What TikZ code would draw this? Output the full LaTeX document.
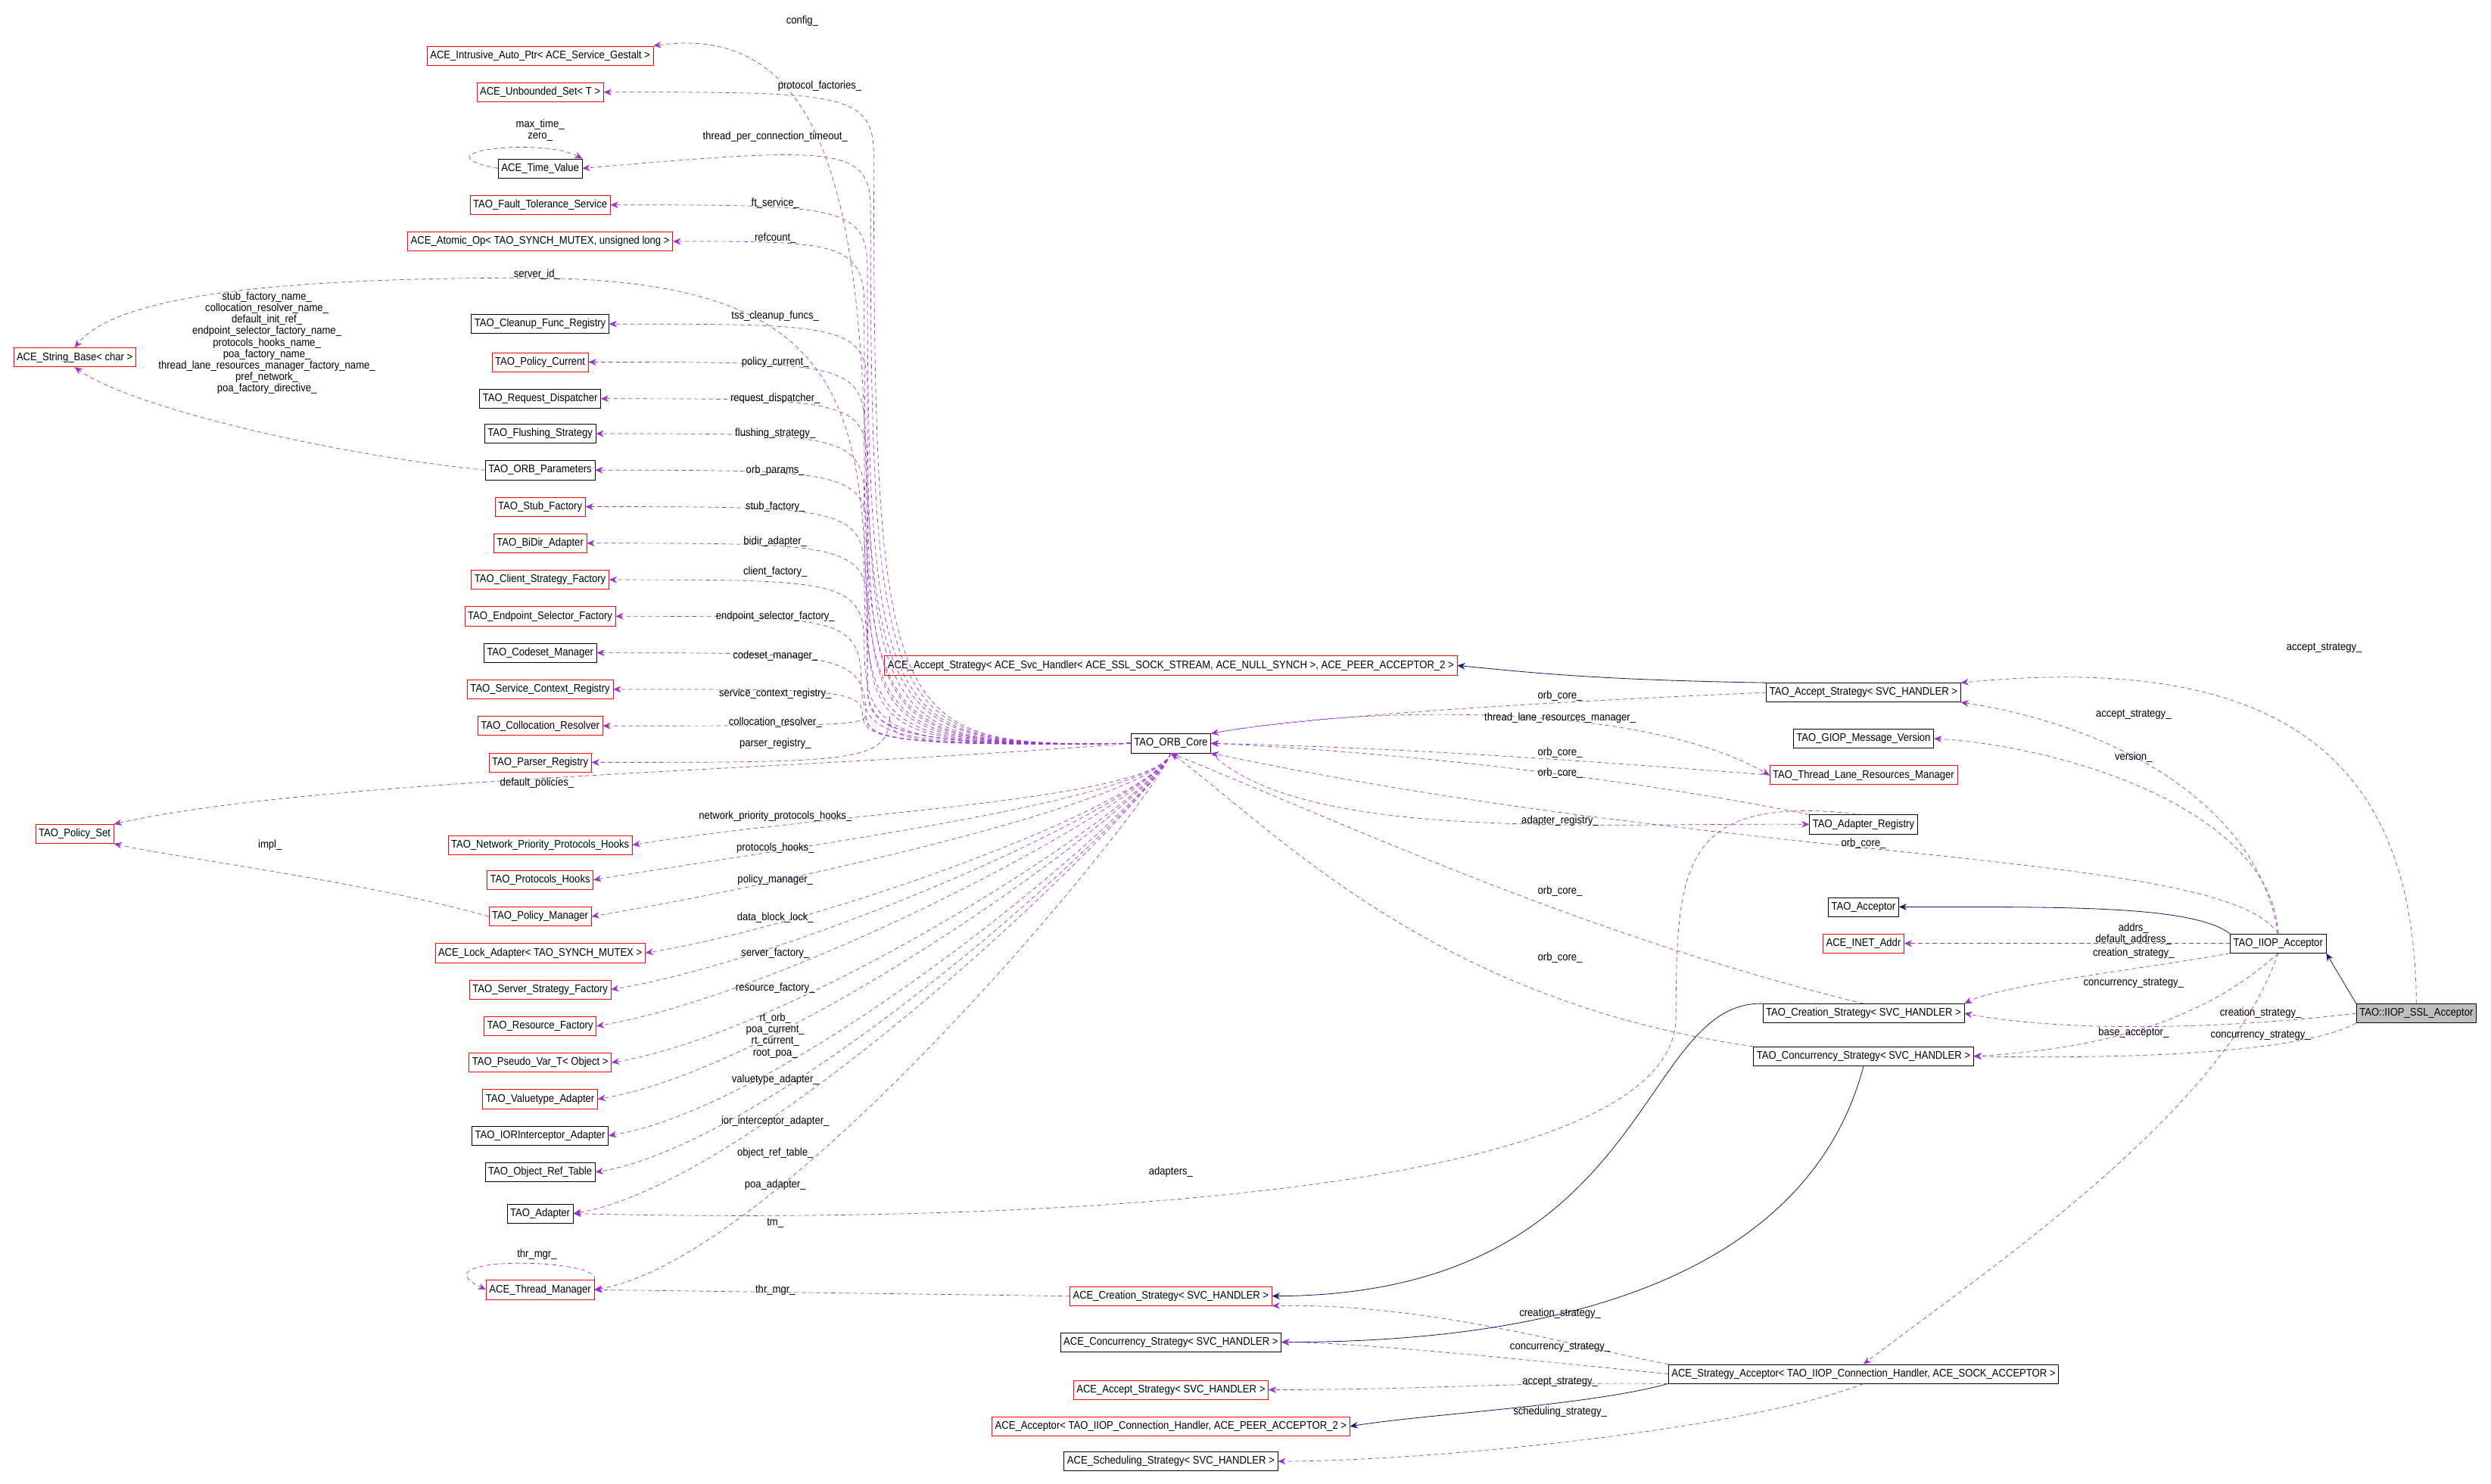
\documentclass[tikz,border=0pt]{standalone}
\usepackage{fontspec}
\setmainfont{Liberation Sans}[FakeStretch=0.9]
\usetikzlibrary{arrows.meta}
\definecolor{dep}{HTML}{9A32CD}
\definecolor{inhc}{HTML}{191970}
\newcommand{\lbl}{\fontsize{10.5}{11}\selectfont}
\tikzset{
 box/.style={draw=black,line width=0.5pt,font=\lbl,inner sep=3pt,minimum height=6.4mm,fill=white},
 rbox/.style={box,draw=red},
 gbox/.style={box,fill=black!25},
 dep/.style={draw=dep,dash pattern=on 4pt off 3pt,line width=0.5pt,-{Stealth[length=2.6mm,width=2.2mm]}},
 inh/.style={draw=inhc,line width=0.6pt,-{Stealth[length=2.6mm,width=2.2mm]}},
 el/.style={font=\lbl,inner sep=0pt,align=center}
}
\begin{document}
\begin{tikzpicture}[x=0.5334mm,y=-0.5334mm]
\useasboundingbox (0,0) rectangle (1568,934);
% left column
\foreach \n/\t/\y/\s in {
 ia/{ACE\_Intrusive\_Auto\_Ptr< ACE\_Service\_Gestalt >}/35/rbox,
 us/{ACE\_Unbounded\_Set< T >}/58/rbox,
 tv/{ACE\_Time\_Value}/106/box,
 ft/{TAO\_Fault\_Tolerance\_Service}/129/rbox,
 ao/{ACE\_Atomic\_Op< TAO\_SYNCH\_MUTEX, unsigned long >}/152/rbox,
 cf/{TAO\_Cleanup\_Func\_Registry}/204/box,
 pc/{TAO\_Policy\_Current}/228/rbox,
 rd/{TAO\_Request\_Dispatcher}/251/box,
 fs/{TAO\_Flushing\_Strategy}/273/box,
 op/{TAO\_ORB\_Parameters}/296/box,
 sf/{TAO\_Stub\_Factory}/319/rbox,
 bd/{TAO\_BiDir\_Adapter}/342/rbox,
 csf/{TAO\_Client\_Strategy\_Factory}/365/rbox,
 esf/{TAO\_Endpoint\_Selector\_Factory}/388/rbox,
 cm/{TAO\_Codeset\_Manager}/411/box,
 scr/{TAO\_Service\_Context\_Registry}/434/rbox,
 cr/{TAO\_Collocation\_Resolver}/457/rbox,
 pr/{TAO\_Parser\_Registry}/480/rbox,
 npp/{TAO\_Network\_Priority\_Protocols\_Hooks}/532/rbox,
 ph/{TAO\_Protocols\_Hooks}/554/rbox,
 pm/{TAO\_Policy\_Manager}/577/rbox,
 la/{ACE\_Lock\_Adapter< TAO\_SYNCH\_MUTEX >}/600/rbox,
 ssf/{TAO\_Server\_Strategy\_Factory}/623/rbox,
 rf/{TAO\_Resource\_Factory}/646/rbox,
 pv/{TAO\_Pseudo\_Var\_T< Object >}/669/rbox,
 va/{TAO\_Valuetype\_Adapter}/692/rbox,
 iora/{TAO\_IORInterceptor\_Adapter}/715/box,
 ort/{TAO\_Object\_Ref\_Table}/738/box,
 tadp/{TAO\_Adapter}/764/box,
 tm/{ACE\_Thread\_Manager}/812/rbox}
 {\node[\s] (\n) at (340,\y) {\t};}
\node[rbox] (sb) at (47,225) {ACE\_String\_Base< char >};
\node[rbox] (ps) at (47,525) {TAO\_Policy\_Set};
\node[rbox] (aas) at (737,419) {ACE\_Accept\_Strategy< ACE\_Svc\_Handler< ACE\_SSL\_SOCK\_STREAM, ACE\_NULL\_SYNCH >, ACE\_PEER\_ACCEPTOR\_2 >};
\node[box] (orb) at (737,468) {TAO\_ORB\_Core};
\node[box] (ta) at (1173,436) {TAO\_Accept\_Strategy< SVC\_HANDLER >};
\node[box] (giop) at (1173,465) {TAO\_GIOP\_Message\_Version};
\node[rbox] (tlrm) at (1173,488) {TAO\_Thread\_Lane\_Resources\_Manager};
\node[box] (ar) at (1173,519) {TAO\_Adapter\_Registry};
\node[box] (acc) at (1173,571) {TAO\_Acceptor};
\node[rbox] (inet) at (1173,594) {ACE\_INET\_Addr};
\node[box] (iiop) at (1434,594) {TAO\_IIOP\_Acceptor};
\node[gbox] (ssl) at (1521,638) {TAO::IIOP\_SSL\_Acceptor};
\node[box] (cs) at (1173,638) {TAO\_Creation\_Strategy< SVC\_HANDLER >};
\node[box] (ccs) at (1173,665) {TAO\_Concurrency\_Strategy< SVC\_HANDLER >};
\node[rbox] (acs) at (737,816) {ACE\_Creation\_Strategy< SVC\_HANDLER >};
\node[box] (accs) at (737,845) {ACE\_Concurrency\_Strategy< SVC\_HANDLER >};
\node[box] (sa) at (1173,865) {ACE\_Strategy\_Acceptor< TAO\_IIOP\_Connection\_Handler, ACE\_SOCK\_ACCEPTOR >};
\node[rbox] (aas2) at (737,875) {ACE\_Accept\_Strategy< SVC\_HANDLER >};
\node[rbox] (aa) at (737,898) {ACE\_Acceptor< TAO\_IIOP\_Connection\_Handler, ACE\_PEER\_ACCEPTOR\_2 >};
\node[box] (sch) at (737,920) {ACE\_Scheduling\_Strategy< SVC\_HANDLER >};

% ORB_Core to upper left nodes
\coordinate (up0) at (546,430);
\draw[dep] (orb.west) .. controls (560,470) and (546,460) .. (up0) .. controls (546,200) and (548,10) .. (ia.north east);
\foreach \n/\y/\xx in {us/58/550,tv/92/548,ft/129/546,ao/152/544,cf/204/546,pc/228/544,rd/251/546,fs/273/544,op/296/546,sf/319/544,bd/342/546,csf/365/544,esf/388/542,cm/411/545,scr/434/543,cr/457/545,pr/480/560}
 {\draw[dep] (orb.west) .. controls (560,470) and (\xx,465) .. (\xx,{min(\y+40,450)}) .. controls (\xx,\y) and ({\xx-20},\y) .. (\n.east);}
\coordinate (sbm) at (330,175);
\draw[dep] (orb.west) .. controls (560,470) and (545,460) .. (up0) .. controls (545,260) and (545,175) .. (sbm) .. controls (150,175) and (70,190) .. (sb.north);
\draw[dep] (orb.west) .. controls (500,485) and (200,490) .. (ps.north east);
\foreach \n in {npp,ph,pm,la,ssf,rf,pv,va,iora,ort,tadp,tm}
 {\draw[dep] (orb.south) .. controls +(-10,30) and +(120,-20) .. (\n.east);}
\draw[dep] (op.west) .. controls (200,285) and (80,255) .. (sb.south);
\draw[dep] (pm.west) .. controls (230,555) and (110,540) .. (ps.south east);
\draw[dep] (tv.west) .. controls (260,96) and (340,86) .. (tv.north east);
\draw[dep] (tm.north east) .. controls (380,792) and (260,790) .. (tm.west);
% labels left
\node[el] (l1) at (505,13) {config\_};
\node[el] (l2) at (516,54) {protocol\_factories\_};
\node[el] (l3) at (340,82) {max\_time\_\\zero\_};
\node[el] (l4) at (488,86) {thread\_per\_connection\_timeout\_};
\node[el] (l5) at (488,128) {ft\_service\_};
\node[el] (l6) at (488,150) {refcount\_};
\node[el] (l7) at (338,173) {server\_id\_};
\node[el] (l8) at (488,199) {tss\_cleanup\_funcs\_};
\node[el] (l9) at (488,228) {policy\_current\_};
\node[el] (l10) at (488,251) {request\_dispatcher\_};
\node[el] (l11) at (488,273) {flushing\_strategy\_};
\node[el] (l12) at (488,296) {orb\_params\_};
\node[el] (l13) at (488,319) {stub\_factory\_};
\node[el] (l14) at (488,341) {bidir\_adapter\_};
\node[el] (l15) at (488,360) {client\_factory\_};
\node[el] (l16) at (488,388) {endpoint\_selector\_factory\_};
\node[el] (l17) at (488,413) {codeset\_manager\_};
\node[el] (l18) at (488,437) {service\_context\_registry\_};
\node[el] (l19) at (488,455) {collocation\_resolver\_};
\node[el] (l20) at (488,468) {parser\_registry\_};
\node[el] (l21) at (338,493) {default\_policies\_};
\node[el] (l22) at (488,514) {network\_priority\_protocols\_hooks\_};
\node[el] (l23) at (488,534) {protocols\_hooks\_};
\node[el] (l24) at (488,554) {policy\_manager\_};
\node[el] (l25) at (488,578) {data\_block\_lock\_};
\node[el] (l26) at (488,600) {server\_factory\_};
\node[el] (l27) at (488,622) {resource\_factory\_};
\node[el] (l28) at (488,652) {rt\_orb\_\\poa\_current\_\\rt\_current\_\\root\_poa\_};
\node[el] (l29) at (488,680) {valuetype\_adapter\_};
\node[el] (l30) at (488,706) {ior\_interceptor\_adapter\_};
\node[el] (l31) at (488,726) {object\_ref\_table\_};
\node[el] (l32) at (488,746) {poa\_adapter\_};
\node[el] (l33) at (488,770) {tm\_};
\node[el] (l34) at (338,790) {thr\_mgr\_};
\node[el] (l35) at (488,812) {thr\_mgr\_};
\node[el] (l36) at (737,738) {adapters\_};
\node[el] (l37) at (170,532) {impl\_};
\node[el] (l38) at (168,216) {stub\_factory\_name\_\\collocation\_resolver\_name\_\\default\_init\_ref\_\\endpoint\_selector\_factory\_name\_\\protocols\_hooks\_name\_\\poa\_factory\_name\_\\thread\_lane\_resources\_manager\_factory\_name\_\\pref\_network\_\\poa\_factory\_directive\_};

% right side
\draw[inh] (ta.north west) .. controls (1000,428) and (960,423) .. (aas.east);
\draw[dep] (ta.west) .. controls (900,445) and (800,455) .. (orb.north east);
\draw[dep] (orb.north east) .. controls (850,445) and (1030,440) .. (tlrm.west);
\draw[dep] (tlrm.west) .. controls (950,475) and (850,470) .. (orb.east);
\draw[dep] (ar.north west) .. controls (1000,485) and (850,472) .. (orb.east);
\draw[dep] (orb.south east) .. controls (820,530) and (1000,518) .. (ar.west);
\draw[dep] (iiop.north) .. controls (1400,535) and (1100,545) .. (orb.south east);
\draw[dep] (cs.north) .. controls (1000,590) and (850,520) .. (orb.south);
\draw[dep] (ccs.north west) .. controls (900,630) and (800,520) .. (orb.south);
\draw[dep] (ssl.north) .. controls (1520,480) and (1440,410) .. (ta.north east);
\draw[dep] (iiop.north) .. controls (1420,500) and (1320,455) .. (ta.south east);
\draw[dep] (iiop.north) .. controls (1430,510) and (1300,470) .. (giop.east);
\draw[inh] (iiop.north west) .. controls (1380,570) and (1300,571) .. (acc.east);
\draw[dep] (iiop.west) -- (inet.east);
\draw[dep] (iiop.south west) .. controls (1350,610) and (1260,620) .. (cs.north east);
\draw[dep] (iiop.south) .. controls (1390,640) and (1330,660) .. (ccs.east);
\draw[inh] (ssl.north west) -- (iiop.south east);
\draw[dep] (ssl.west) .. controls (1400,648) and (1300,650) .. (cs.east);
\draw[dep] (ssl.south west) .. controls (1450,662) and (1350,667) .. (ccs.east);
\draw[dep] (iiop.south) .. controls (1400,700) and (1250,800) .. (sa.north);
\draw[inh] (cs.north west) .. controls (1030,630) and (1040,815) .. (acs.east);
\draw[inh] (ccs.south) .. controls (1150,760) and (1060,845) .. (accs.east);
\draw[inh] (sa.south west) .. controls (1000,885) and (900,890) .. (aa.east);
\draw[dep] (sa.north west) .. controls (1000,850) and (900,820) .. (acs.south east);
\draw[dep] (sa.west) .. controls (950,855) and (850,845) .. (accs.east);
\draw[dep] (sa.south west) .. controls (950,870) and (900,875) .. (aas2.east);
\draw[dep] (sa.south) .. controls (1100,900) and (900,920) .. (sch.east);
\draw[dep] (acs.west) -- (tm.east);
\coordinate (adm) at (1055,640);
\draw[dep] (ar.north) .. controls (1060,500) and (1055,540) .. (adm) .. controls (1055,760) and (600,770) .. (tadp.east);
\node[el] (r1) at (982,438) {orb\_core\_};
\node[el] (r2) at (982,452) {thread\_lane\_resources\_manager\_};
\node[el] (r3) at (982,474) {orb\_core\_};
\node[el] (r4) at (982,487) {orb\_core\_};
\node[el] (r5) at (982,517) {adapter\_registry\_};
\node[el] (r6) at (1173,531) {orb\_core\_};
\node[el] (r7) at (982,561) {orb\_core\_};
\node[el] (r8) at (982,603) {orb\_core\_};
\node[el] (r9) at (1463,408) {accept\_strategy\_};
\node[el] (r10) at (1343,450) {accept\_strategy\_};
\node[el] (r11) at (1343,477) {version\_};
\node[el] (r12) at (1343,588) {addrs\_\\default\_address\_};
\node[el] (r13) at (1343,600) {creation\_strategy\_};
\node[el] (r14) at (1343,619) {concurrency\_strategy\_};
\node[el] (r15) at (1423,638) {creation\_strategy\_};
\node[el] (r16) at (1423,652) {concurrency\_strategy\_};
\node[el] (r17) at (1343,650) {base\_acceptor\_};
\node[el] (r18) at (982,827) {creation\_strategy\_};
\node[el] (r19) at (982,848) {concurrency\_strategy\_};
\node[el] (r20) at (982,870) {accept\_strategy\_};
\node[el] (r21) at (982,889) {scheduling\_strategy\_};
\end{tikzpicture}
\end{document}
